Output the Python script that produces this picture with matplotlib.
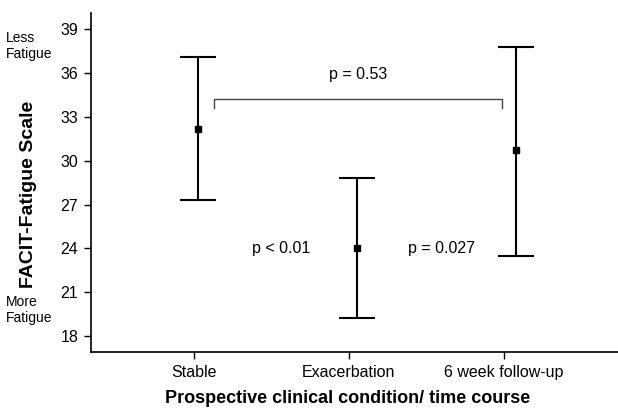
import matplotlib
matplotlib.use("Agg")
import matplotlib.pyplot as plt

plt.rcParams['font.family'] = ['Liberation Sans', 'DejaVu Sans']

# data
conditions = ["Stable", "Exacerbation", "6 week follow-up"]
x_pos = [1.025, 2.05, 3.08]
means = [32.2, 24.0, 30.7]
upper = [37.1, 28.8, 37.8]
lower = [27.3, 19.25, 23.5]
yticks = [18, 21, 24, 27, 30, 33, 36, 39]

err_lo = [m - l for m, l in zip(means, lower)]
err_hi = [u - m for u, m in zip(upper, means)]

fig = plt.figure(figsize=(6.18, 4.08), dpi=100)
ax = fig.add_axes([0.147, 0.137, 0.853, 0.831])

ax.errorbar(x_pos, means, yerr=[err_lo, err_hi], fmt='s', color='black',
            ms=4, elinewidth=1.5, capsize=13, capthick=1.5)

# bracket between stable and follow-up
ax.plot([1.13, 1.13, 2.99, 2.99], [33.6, 34.2, 34.2, 33.6], color='#444444', lw=1)
ax.text(2.06, 35.9, "p = 0.53", ha='center', va='center', fontsize=11.5)
ax.text(1.56, 24.0, "p < 0.01", ha='center', va='center', fontsize=11.5)
ax.text(2.6, 24.0, "p = 0.027", ha='center', va='center', fontsize=11.5)

ax.set_xlim(0.333, 3.74)
ax.set_ylim(16.9, 40.1)
ax.set_xticks([1, 2, 3])
ax.set_xticklabels(conditions)
ax.set_yticks(yticks)
ax.tick_params(labelsize=11.5, length=5, width=1, pad=4)

for s in ['top', 'right']:
    ax.spines[s].set_visible(False)
for s in ['left', 'bottom']:
    ax.spines[s].set_linewidth(1.2)

ax.set_ylabel("FACIT-Fatigue Scale", fontsize=14, fontweight='bold')
ax.yaxis.set_label_coords(-0.1025, 0.465)
ax.set_xlabel("Prospective clinical condition/ time course", fontsize=13,
              fontweight='bold')
ax.xaxis.set_label_coords(0.488, -0.113)

fig.text(0.01, 0.887, "Less\nFatigue", fontsize=10, ha='left', va='center')
fig.text(0.01, 0.24, "More\nFatigue", fontsize=10, ha='left', va='center')

fig.savefig("out.png", dpi=100)
